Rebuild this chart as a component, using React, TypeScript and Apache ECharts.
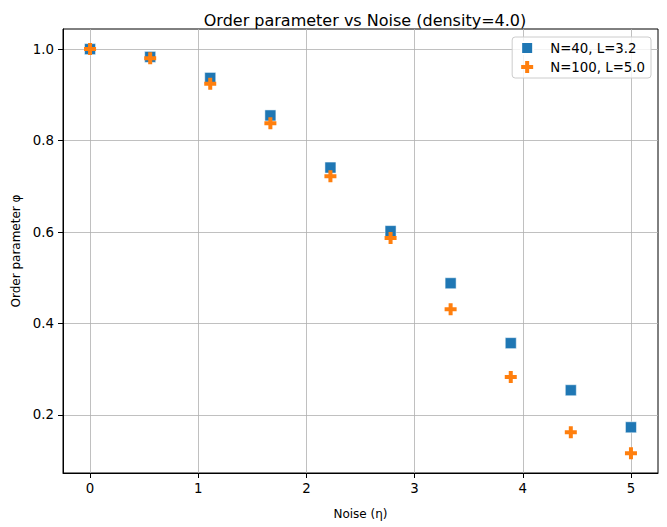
import React, { useRef, useEffect } from 'react';
import * as echarts from 'echarts';

const noise = [0, 0.556, 1.111, 1.667, 2.222, 2.778, 3.333, 3.889, 4.444, 5.0];
const phiN40 = [1.0, 0.983, 0.937, 0.855, 0.741, 0.602, 0.488, 0.357, 0.254, 0.173];
const phiN100 = [1.0, 0.98, 0.924, 0.838, 0.722, 0.587, 0.431, 0.283, 0.162, 0.116];
const xTicks = [0, 1, 2, 3, 4, 5];
const yTicks = [0.2, 0.4, 0.6, 0.8, 1.0];
const seriesNames = ['N=40, L=3.2', 'N=100, L=5.0'];

const SQUARE = 'path://M0,0H6V6H0Z';
const PLUS = 'path://M2,0H4V2H6V4H4V6H2V4H0V2H2Z';
const FONT = 'DejaVu Sans';

const App: React.FC = () => {
  const chartRef = useRef<HTMLDivElement>(null);

  useEffect(() => {
    if (!chartRef.current) return;
    const chart = echarts.init(chartRef.current, null, { renderer: 'svg' });

    const axisCommon = {
      axisLine: { show: true, onZero: false, lineStyle: { color: '#000', width: 1 } },
      axisTick: { show: true, length: 5, lineStyle: { color: '#000', width: 1 } },
      splitLine: { show: true, lineStyle: { color: '#b0b0b0', width: 0.8 } },
      nameLocation: 'middle' as const,
      nameTextStyle: { fontFamily: FONT, fontSize: 12, color: '#000' },
    };

    const option: echarts.EChartsOption = {
      animation: false,
      title: {
        text: 'Order parameter vs Noise (density=4.0)',
        left: 360,
        top: 7,
        textAlign: 'center',
        textStyle: { fontFamily: FONT, fontSize: 16, fontWeight: 'normal', color: '#000' },
      },
      grid: {
        left: 63,
        right: 9,
        top: 29,
        bottom: 54,
        show: true,
        borderColor: '#000',
        borderWidth: 1,
      },
      legend: {
        orient: 'vertical',
        right: 16,
        top: 37,
        padding: [4, 6, 4, 8],
        itemWidth: 24,
        itemHeight: 12,
        itemGap: 5,
        backgroundColor: 'rgba(255,255,255,0.8)',
        borderColor: '#cccccc',
        borderWidth: 1,
        borderRadius: 3,
        textStyle: { fontFamily: FONT, fontSize: 13.33, color: '#000', lineHeight: 14, padding: [0, 0, 0, 6] },
        data: [
          { name: seriesNames[0], icon: SQUARE },
          { name: seriesNames[1], icon: PLUS },
        ],
      },
      xAxis: {
        type: 'value',
        min: -0.25,
        max: 5.25,
        name: 'Noise (η)',
        nameGap: 35,
        ...axisCommon,
        axisTick: { ...axisCommon.axisTick, customValues: xTicks },
        axisLabel: {
          customValues: xTicks,
          margin: 9,
          fontFamily: FONT,
          fontSize: 13.33,
          color: '#000',
          formatter: (v: number) => String(v),
        },
      },
      yAxis: {
        type: 'value',
        min: 0.073,
        max: 1.044,
        name: 'Order parameter φ',
        nameGap: 40,
        ...axisCommon,
        axisTick: { ...axisCommon.axisTick, customValues: yTicks },
        axisLabel: {
          customValues: yTicks,
          margin: 9,
          fontFamily: FONT,
          fontSize: 13.33,
          color: '#000',
          formatter: (v: number) => v.toFixed(1),
        },
      },
      series: [
        {
          name: seriesNames[0],
          type: 'scatter',
          symbol: SQUARE,
          symbolSize: 11,
          itemStyle: { color: '#1f77b4', borderColor: '#fff', borderWidth: 0.5, opacity: 1 },
          data: noise.map((x, i) => [x, phiN40[i]]),
        },
        {
          name: seriesNames[1],
          type: 'scatter',
          symbol: PLUS,
          symbolSize: 12,
          itemStyle: { color: '#ff7f0e', opacity: 1 },
          data: noise.map((x, i) => [x, phiN100[i]]),
        },
      ],
    };

    chart.setOption(option);

    const handleResize = () => chart.resize();
    window.addEventListener('resize', handleResize);
    return () => {
      window.removeEventListener('resize', handleResize);
      chart.dispose();
    };
  }, []);

  return (
    <div
      ref={chartRef}
      style={{ position: 'fixed', left: 0, top: 0, width: 667, height: 527, background: '#fff' }}
    />
  );
};

export default App;
